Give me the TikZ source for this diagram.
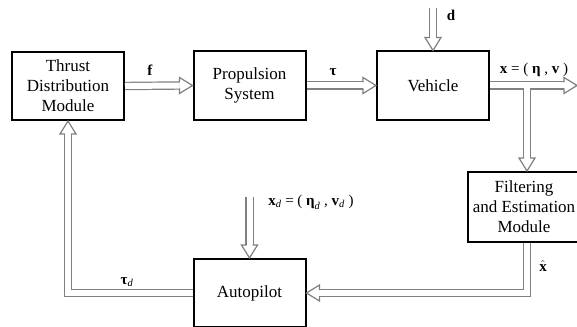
\documentclass[tikz,border=0pt]{standalone}
\usepackage{amsmath}
\usepackage{fontspec}
\setmainfont{Liberation Serif}
\newfontfamily\tms{Liberation Serif}
\usetikzlibrary{calc}
\definecolor{shaftgray}{HTML}{808080}
\begin{document}
\begin{tikzpicture}[x=1pt,y=-1pt,
  blk/.style={draw=black,line width=2pt,fill=white,minimum width=112pt,minimum height=68pt,
    align=center,inner sep=0pt,font=\tms\fontsize{17}{20}\selectfont},
  lbl/.style={inner sep=0pt,font=\tms\fontsize{15}{18}\selectfont},
  outer/.style={draw=shaftgray,line width=8.4pt,line join=miter},
  inner/.style={draw=white,line width=6pt,line join=miter},
  hhead/.pic={\fill[white] (0,0)--(-13,-8)--(-13,8)--cycle;
    \draw[shaftgray,line width=1.2pt,line join=miter] (-13,-3)--(-13,-8)--(0,0)--(-13,8)--(-13,3);}
]
\useasboundingbox (0,0) rectangle (577,326);
\clip (0,0) rectangle (577,326);
\fill[white] (0,0) rectangle (577,326);

\node[blk] (thr) at (68,86) {Thrust\\Distribution\\Module};
\node[blk] (pro) at (249.5,85.5) {Propulsion\\System};
\node[blk] (veh) at (433,85.5) {Vehicle};
\node[blk,minimum height=70pt] (fil) at (524,207) {Filtering\\and Estimation\\Module};
\node[blk] (aut) at (249.5,293) {Autopilot};

\coordinate (dtop) at (433,8);
\coordinate (xend) at (577,85.5);
\coordinate (br) at (527,85.5);
\coordinate (xdtop) at (249.5,197);
\coordinate (xhc) at (br |- aut.east);
\coordinate (tdc) at (thr.south |- aut.west);

\def\shafts#1{%
  \draw[#1] (thr.east) -- ($(pro.west)+(-13,0)$);
  \draw[#1] (pro.east) -- ($(veh.west)+(-13,0)$);
  \draw[#1] (dtop) -- ($(veh.north)+(0,-13)$);
  \draw[#1] (veh.east) -- ($(xend)+(-13,0)$);
  \draw[#1] (br) -- ($(br |- fil.north)+(0,-13)$);
  \draw[#1] (br |- fil.south) -- (xhc) -- ($(aut.east)+(13,0)$);
  \draw[#1] (xdtop) -- ($(aut.north)+(0,-13)$);
  \draw[#1] (aut.west) -- (tdc) -- ($(thr.south)+(0,13)$);
}
\shafts{outer}
\shafts{inner}

\pic at (pro.west) {hhead};
\pic at (veh.west) {hhead};
\pic[rotate=-90] at (veh.north) {hhead};
\pic at (xend) {hhead};
\pic[rotate=-90] at (br |- fil.north) {hhead};
\pic[rotate=180] at (aut.east) {hhead};
\pic[rotate=-90] at (aut.north) {hhead};
\pic[rotate=90] at (thr.south) {hhead};

\node[lbl] (lf) at (150,70) {\textbf{f}};
\node[lbl] (lt) at (333,72) {\textbf{τ}};
\node[lbl] (ld) at (451,15) {\textbf{d}};
\node[lbl] (lx) at (534,70) {\textbf{x} = ( \textbf{η} , \textbf{v} )};
\node[lbl] (lxh) at (543,266) {$\hat{\textbf{x}}$};
\node[lbl] (lxd) at (311,202) {$\textbf{x}_{\textit{d}}$ = ( $\textbf{η}_{\textit{d}}$ , $\textbf{v}_{\textit{d}}$ )};
\node[lbl] (ltd) at (127,282) {$\textbf{τ}_{\textit{d}}$};
\end{tikzpicture}
\end{document}
